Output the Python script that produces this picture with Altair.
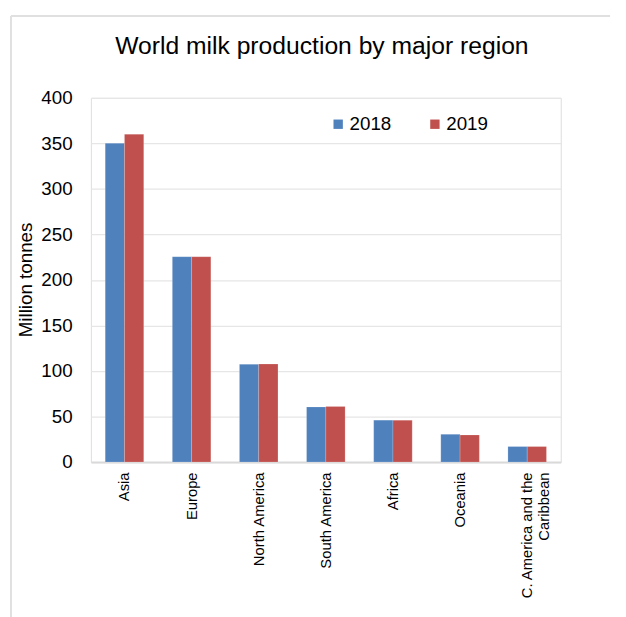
import altair as alt
import pandas as pd

regions = ["Asia", "Europe", "North America", "South America", "Africa",
           "Oceania", "C. America and the Caribbean"]
v2018 = [350, 225.5, 107.3, 60.5, 46, 30.5, 17]
v2019 = [360, 225.5, 107.6, 61, 46, 29.7, 17]
years = ["2018", "2019"]
colors = ["#4f81bd", "#c0504d"]
y_ticks = [0, 50, 100, 150, 200, 250, 300, 350, 400]

rows = []
for r, a, b in zip(regions, v2018, v2019):
    rows.append({"region": r, "year": years[0], "value": a})
    rows.append({"region": r, "year": years[1], "value": b})
df = pd.DataFrame(rows)

FONT = "Liberation Sans"

bars = alt.Chart(df).mark_bar(stroke="#ffffff", strokeOpacity=0.35, strokeWidth=0.5).encode(
    x=alt.X("region:N", sort=regions, title=None,
            scale=alt.Scale(paddingInner=0.426, paddingOuter=0.213),
            axis=alt.Axis(labelAngle=270, labelAlign="right", labelBaseline="middle",
                          labelFontSize=15, labelFont=FONT, labelColor="#000000",
                          labelPadding=10, ticks=False, domain=True,
                          domainColor="#d9d9d9", domainWidth=2,
                          labelLineHeight=17,
                          labelExpr="datum.label == 'C. America and the Caribbean' ? ['C. America and the', 'Caribbean'] : datum.label")),
    xOffset=alt.XOffset("year:N", scale=alt.Scale(paddingInner=0, paddingOuter=0)),
    y=alt.Y("value:Q", title="Million tonnes",
            scale=alt.Scale(domain=[0, 400], nice=False),
            axis=alt.Axis(values=y_ticks, domain=False, ticks=False,
                          labelFontSize=19, labelFont=FONT, labelColor="#000000",
                          labelPadding=19, gridColor="#e6e6e6", gridWidth=1.3,
                          titleFontSize=19, titleFont=FONT, titleFontWeight="normal",
                          titleColor="#000000", titleX=-66, titleY=184,
                          titleAngle=270, titleAlign="center", titleBaseline="middle")),
    color=alt.Color("year:N", scale=alt.Scale(domain=years, range=colors),
                    legend=alt.Legend(title=None, orient="none", legendX=241, legendY=17,
                                      direction="horizontal", symbolType="square",
                                      symbolSize=90, symbolStrokeWidth=0,
                                      labelFontSize=19, labelFont=FONT,
                                      labelColor="#000000", labelOffset=2,
                                      columnPadding=34)),
)

frame_data = alt.Data(values=[{"k": 1}])
left_line = alt.Chart(frame_data).mark_rule(color="#e0e0e0", strokeWidth=2).encode(
    x=alt.value(-81), y=alt.value(-83), y2=alt.value(530))
top_line = alt.Chart(frame_data).mark_rule(color="#e0e0e0", strokeWidth=2).encode(
    x=alt.value(-81), x2=alt.value(526), y=alt.value(-83))

chart = alt.layer(left_line, top_line, bars).properties(
    width=476, height=369,
    title=alt.TitleParams("World milk production by major region", fontSize=25,
                          font=FONT, fontWeight="normal", color="#000000",
                          anchor="middle", offset=-45, dx=-4),
    autosize=alt.AutoSizeParams(type="none"),
    padding={"left": 84, "top": 87, "right": 58, "bottom": 153},
).configure_view(stroke="#e6e6e6", strokeWidth=1.3).configure(background="#ffffff")

chart.save("out.html", embed_options={"renderer": "svg", "actions": False})
